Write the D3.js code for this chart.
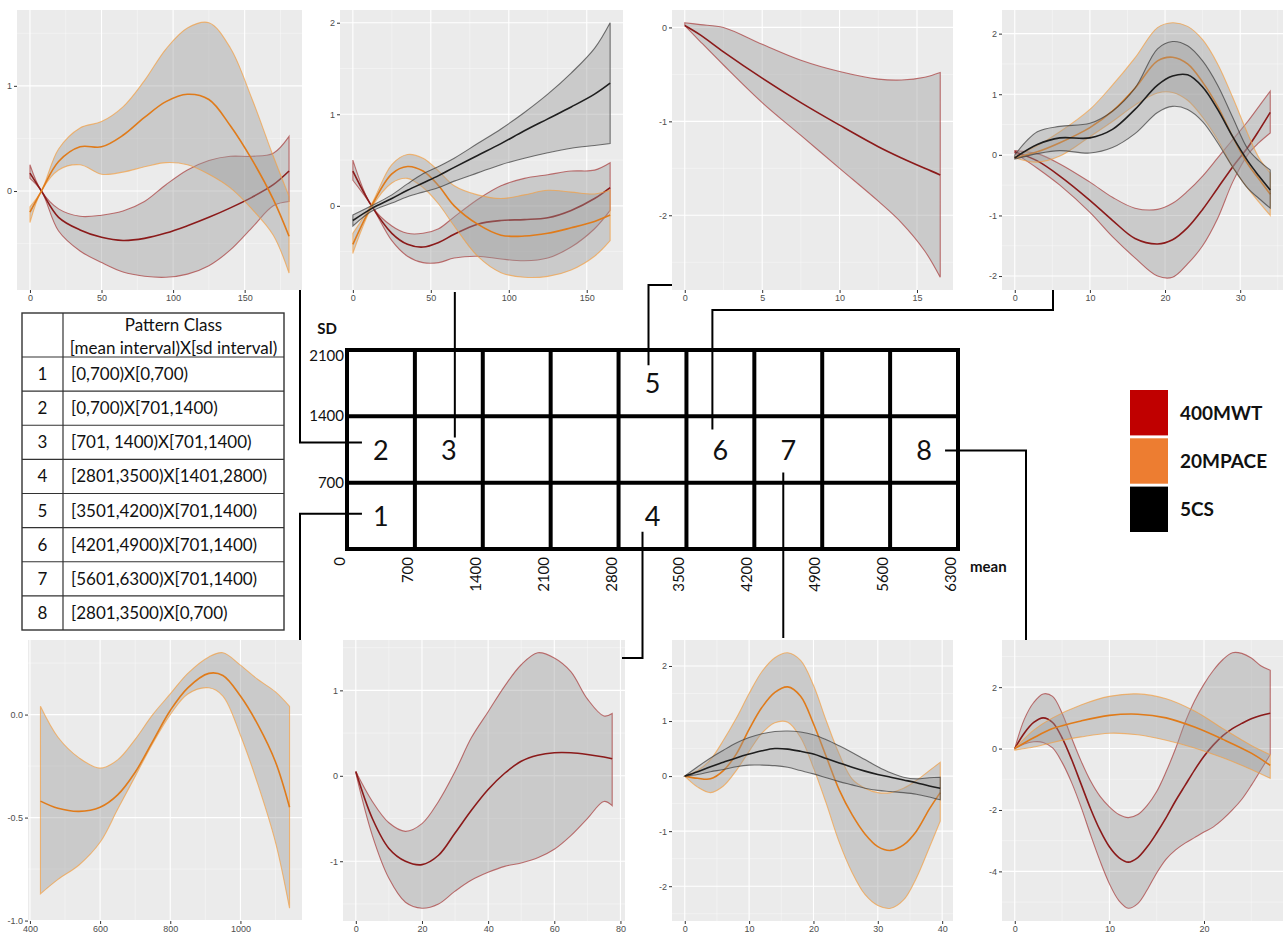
<!DOCTYPE html>
<html>
<head>
<meta charset="utf-8">
<script src="https://cdn.jsdelivr.net/npm/d3@7"></script>
<style>
  body { margin: 0; background: #fff; }
  svg { display: block; }
</style>
</head>
<body>
<svg id="chart" width="1283" height="936"></svg>
<script>
// ---- class 2 (top left) ----
var c2X = [0, 8, 20, 35, 50, 65, 80, 95, 110, 125, 140, 155, 170, 181];
var c2RedMean = [0.17, 0.0, -0.25, -0.37, -0.44, -0.47, -0.45, -0.4, -0.33, -0.25, -0.16, -0.06, 0.06, 0.19];
var c2RedLo = [0.12, 0.0, -0.38, -0.57, -0.68, -0.77, -0.81, -0.82, -0.79, -0.71, -0.56, -0.35, -0.14, -0.1];
var c2RedHi = [0.25, 0.0, -0.17, -0.24, -0.23, -0.19, -0.1, 0.06, 0.2, 0.29, 0.33, 0.33, 0.36, 0.52];
var c2OrangeMean = [-0.2, 0.0, 0.28, 0.42, 0.42, 0.53, 0.7, 0.85, 0.92, 0.87, 0.62, 0.3, -0.08, -0.43];
var c2OrangeLo = [-0.3, 0.0, 0.2, 0.25, 0.16, 0.18, 0.23, 0.27, 0.25, 0.16, 0.03, -0.17, -0.42, -0.78];
var c2OrangeHi = [-0.15, 0.0, 0.4, 0.6, 0.66, 0.8, 1.05, 1.35, 1.55, 1.6, 1.36, 0.88, 0.33, -0.05];
var c2XTicks = [0, 50, 100, 150];
var c2YTicks = [0, 1];

// ---- class 3 ----
var c3X = [0, 12, 25, 35, 45, 55, 65, 80, 95, 110, 125, 140, 155, 165];
var c3RedMean = [0.38, 0.0, -0.3, -0.42, -0.45, -0.4, -0.31, -0.2, -0.16, -0.15, -0.13, -0.05, 0.08, 0.2];
var c3RedLo = [0.28, 0.0, -0.38, -0.55, -0.62, -0.62, -0.57, -0.55, -0.58, -0.6, -0.57, -0.45, -0.25, -0.05];
var c3RedHi = [0.5, 0.0, -0.22, -0.3, -0.3, -0.25, -0.12, 0.07, 0.22, 0.3, 0.34, 0.38, 0.39, 0.47];
var c3OrangeMean = [-0.42, 0.0, 0.35, 0.43, 0.38, 0.22, 0.0, -0.2, -0.32, -0.33, -0.3, -0.24, -0.17, -0.1];
var c3OrangeLo = [-0.52, -0.02, 0.25, 0.3, 0.2, 0.02, -0.22, -0.55, -0.73, -0.78, -0.77, -0.7, -0.55, -0.38];
var c3OrangeHi = [-0.3, 0.02, 0.45, 0.56, 0.52, 0.38, 0.22, 0.12, 0.08, 0.12, 0.17, 0.15, 0.13, 0.17];
var c3BlackMean = [-0.16, -0.03, 0.08, 0.17, 0.25, 0.33, 0.42, 0.55, 0.68, 0.82, 0.95, 1.08, 1.22, 1.34];
var c3BlackLo = [-0.22, -0.06, 0.03, 0.1, 0.15, 0.2, 0.27, 0.36, 0.45, 0.52, 0.58, 0.63, 0.66, 0.68];
var c3BlackHi = [-0.1, 0.0, 0.12, 0.24, 0.35, 0.43, 0.52, 0.68, 0.84, 1.02, 1.22, 1.45, 1.72, 2.0];
var c3XTicks = [0, 50, 100, 150];
var c3YTicks = [0, 1, 2];

// ---- class 5 ----
var c5X = [0, 1, 2.5, 5, 7.5, 10, 12.5, 14, 15.5, 16.5];
var c5RedMean = [0.02, -0.08, -0.26, -0.54, -0.8, -1.04, -1.27, -1.39, -1.5, -1.57];
var c5RedLo = [0.02, -0.15, -0.4, -0.8, -1.15, -1.5, -1.85, -2.08, -2.38, -2.66];
var c5RedHi = [0.05, 0.03, 0.0, -0.18, -0.35, -0.47, -0.55, -0.56, -0.53, -0.48];
var c5XTicks = [0, 5, 10, 15];
var c5YTicks = [-2, -1, 0];

// ---- class 6 ----
var c6X = [0, 3, 6, 10, 13, 16, 19, 21, 23, 25, 27, 29, 31, 32.5, 34];
var c6RedMean = [0.05, -0.1, -0.35, -0.75, -1.08, -1.38, -1.47, -1.4, -1.2, -0.9, -0.55, -0.2, 0.12, 0.4, 0.7];
var c6RedLo = [0.03, -0.22, -0.5, -0.95, -1.35, -1.7, -2.0, -2.02, -1.8, -1.5, -1.05, -0.45, 0.0, 0.2, 0.36];
var c6RedHi = [0.07, 0.02, -0.15, -0.45, -0.7, -0.88, -0.9, -0.8, -0.6, -0.35, -0.05, 0.25, 0.55, 0.8, 1.05];
var c6OrangeMean = [-0.05, 0.05, 0.2, 0.45, 0.72, 1.1, 1.55, 1.61, 1.5, 1.2, 0.8, 0.3, -0.15, -0.4, -0.65];
var c6OrangeLo = [-0.05, -0.12, -0.02, 0.3, 0.55, 0.82, 1.02, 1.03, 0.9, 0.62, 0.25, -0.2, -0.55, -0.78, -1.0];
var c6OrangeHi = [-0.03, 0.15, 0.38, 0.75, 1.15, 1.6, 2.1, 2.18, 2.12, 1.9, 1.5, 0.95, 0.35, -0.05, -0.3];
var c6BlackMean = [-0.05, 0.17, 0.28, 0.28, 0.42, 0.75, 1.15, 1.3, 1.32, 1.12, 0.75, 0.3, -0.1, -0.35, -0.58];
var c6BlackLo = [-0.07, 0.02, 0.07, 0.03, 0.12, 0.35, 0.7, 0.8, 0.75, 0.55, 0.2, -0.2, -0.55, -0.72, -0.88];
var c6BlackHi = [0.0, 0.38, 0.47, 0.52, 0.72, 1.1, 1.75, 1.87, 1.8, 1.55, 1.15, 0.62, 0.1, -0.1, -0.25];
var c6XTicks = [0, 10, 20, 30];
var c6YTicks = [-2, -1, 0, 1, 2];

// ---- class 1 (bottom left) ----
var c1X = [430, 480, 540, 600, 650, 700, 750, 800, 850, 910, 950, 1000, 1050, 1100, 1140];
var c1OrangeMean = [-0.42, -0.455, -0.47, -0.45, -0.39, -0.28, -0.13, 0.02, 0.13, 0.2, 0.19, 0.09, -0.05, -0.23, -0.45];
var c1OrangeLo = [-0.87, -0.8, -0.73, -0.62, -0.46, -0.3, -0.14, 0.0, 0.1, 0.13, 0.09, -0.1, -0.34, -0.62, -0.94];
var c1OrangeHi = [0.04, -0.11, -0.21, -0.26, -0.22, -0.12, 0.0, 0.1, 0.2, 0.28, 0.3, 0.24, 0.17, 0.11, 0.04];
var c1XTicks = [400, 600, 800, 1000];
var c1YTicks = [-1.0, -0.5, 0.0];

// ---- class 4 ----
var c4X = [0, 5, 10, 15, 20, 25, 30, 35, 40, 45, 50, 55, 60, 65, 70, 75, 77.5];
var c4RedMean = [0.05, -0.5, -0.85, -1.0, -1.04, -0.93, -0.67, -0.4, -0.16, 0.03, 0.17, 0.24, 0.27, 0.27, 0.25, 0.22, 0.2];
var c4RedLo = [0.03, -0.7, -1.2, -1.48, -1.55, -1.5, -1.35, -1.22, -1.13, -1.06, -1.02, -0.96, -0.86, -0.7, -0.5, -0.3, -0.35];
var c4RedHi = [0.05, -0.3, -0.55, -0.65, -0.56, -0.3, 0.05, 0.45, 0.75, 1.05, 1.3, 1.44, 1.38, 1.22, 0.9, 0.7, 0.73];
var c4XTicks = [0, 20, 40, 60, 80];
var c4YTicks = [-1, 0, 1];

// ---- class 7 ----
var c7X = [0, 2, 4, 6, 8, 10, 12, 14, 16, 18, 20, 22, 24, 26, 28, 30, 32, 34, 36, 38, 39.7];
var c7OrangeMean = [0, -0.04, -0.05, 0.1, 0.4, 0.85, 1.25, 1.52, 1.62, 1.45, 0.95, 0.35, -0.25, -0.7, -1.05, -1.28, -1.35, -1.25, -1.0, -0.6, -0.3];
var c7OrangeLo = [0, -0.2, -0.3, -0.18, 0.1, 0.45, 0.78, 0.97, 0.98, 0.7, 0.15, -0.5, -1.2, -1.75, -2.15, -2.35, -2.4, -2.25, -1.85, -1.3, -0.82];
var c7OrangeHi = [0, 0.1, 0.3, 0.65, 1.05, 1.5, 1.9, 2.15, 2.24, 2.1, 1.65, 1.0, 0.4, -0.05, -0.22, -0.3, -0.3, -0.22, -0.08, 0.1, 0.25];
var c7BlackMean = [0, 0.08, 0.17, 0.25, 0.33, 0.4, 0.46, 0.5, 0.49, 0.45, 0.4, 0.32, 0.24, 0.16, 0.09, 0.03, -0.02, -0.07, -0.12, -0.18, -0.22];
var c7BlackLo = [0, 0.03, 0.08, 0.12, 0.17, 0.2, 0.2, 0.19, 0.16, 0.1, 0.04, -0.03, -0.1, -0.16, -0.22, -0.26, -0.28, -0.3, -0.33, -0.38, -0.43];
var c7BlackHi = [0, 0.17, 0.33, 0.47, 0.6, 0.7, 0.77, 0.81, 0.82, 0.8, 0.75, 0.66, 0.55, 0.43, 0.3, 0.17, 0.06, -0.02, -0.05, -0.03, -0.02];
var c7XTicks = [0, 10, 20, 30, 40];
var c7YTicks = [-2, -1, 0, 1, 2];

// ---- class 8 ----
var c8RedX = [0, 1, 2, 3, 4, 5, 6, 7, 8, 9, 10, 11, 12, 13, 14, 15, 16, 17, 18, 19, 20, 21, 22, 23, 24, 25, 26, 27];
var c8RedMean = [0, 0.5, 0.85, 1.0, 0.85, 0.35, -0.35, -1.15, -1.95, -2.65, -3.2, -3.55, -3.7, -3.55, -3.2, -2.75, -2.25, -1.7, -1.2, -0.7, -0.25, 0.12, 0.42, 0.65, 0.82, 0.97, 1.08, 1.15];
var c8RedLo = [0, 0.15, 0.22, 0.2, 0.02, -0.45, -1.1, -1.9, -2.8, -3.65, -4.4, -4.95, -5.2, -5.05, -4.6, -4.05, -3.6, -3.3, -3.08, -2.9, -2.72, -2.55, -2.3, -2.0, -1.65, -1.2, -0.7, -0.2];
var c8RedHi = [0, 0.95, 1.5, 1.78, 1.7, 1.15, 0.35, -0.4, -1.05, -1.55, -1.9, -2.15, -2.25, -2.15, -1.85, -1.4, -0.75, 0.0, 0.85, 1.55, 2.1, 2.55, 2.9, 3.12, 3.1, 2.95, 2.7, 2.55];
var c8OrangeX = [0, 2, 4, 7, 10, 13, 16, 19, 22, 25, 27];
var c8OrangeMean = [0, 0.35, 0.65, 0.9, 1.08, 1.12, 1.0, 0.7, 0.3, -0.15, -0.55];
var c8OrangeLo = [-0.05, 0.05, 0.2, 0.38, 0.5, 0.45, 0.27, 0.02, -0.3, -0.68, -0.97];
var c8OrangeHi = [0, 0.6, 1.0, 1.42, 1.7, 1.78, 1.62, 1.22, 0.65, 0.1, -0.2];
var c8XTicks = [0, 10, 20];
var c8YTicks = [-4, -2, 0, 2];

// ---- pattern class table ----
var classIds = ['1', '2', '3', '4', '5', '6', '7', '8'];
var classIntervals = ['[0,700)X[0,700)', '[0,700)X[701,1400)', '[701, 1400)X[701,1400)',
  '[2801,3500)X[1401,2800)', '[3501,4200)X[701,1400)', '[4201,4900)X[701,1400)',
  '[5601,6300)X[701,1400)', '[2801,3500)X[0,700)'];

// ---- mean x sd grid ----
var meanTicks = [0, 700, 1400, 2100, 2800, 3500, 4200, 4900, 5600, 6300];
var sdTicks = [0, 700, 1400, 2100];
var cellLabels = ['1', '2', '3', '4', '5', '6', '7', '8'];
var cellMean = [350, 350, 1050, 3150, 3150, 3850, 4550, 5950];
var cellSd = [350, 1050, 1050, 350, 1750, 1050, 1050, 1050];

// ---- legend ----
var legendNames = ['400MWT', '20MPACE', '5CS'];
var legendColors = ['#C00000', '#ED7D31', '#000000'];

var palette = {
  red: { line: '#8b1a1a', edge: '#a83a3a' },
  orange: { line: '#e07b1a', edge: '#f3a043' },
  black: { line: '#1e1e1e', edge: '#3a3a3a' }
};

var svg = d3.select('#chart');
svg.append('rect').attr('width', 1283).attr('height', 936).attr('fill', '#fff');

var panels = [
  { box: [17, 10, 302, 290], xt: c2XTicks, yt: c2YTicks, series: [
    { kind: 'red', x: c2X, m: c2RedMean, lo: c2RedLo, hi: c2RedHi },
    { kind: 'orange', x: c2X, m: c2OrangeMean, lo: c2OrangeLo, hi: c2OrangeHi }] },
  { box: [340, 10, 623, 290], xt: c3XTicks, yt: c3YTicks, series: [
    { kind: 'red', x: c3X, m: c3RedMean, lo: c3RedLo, hi: c3RedHi },
    { kind: 'orange', x: c3X, m: c3OrangeMean, lo: c3OrangeLo, hi: c3OrangeHi },
    { kind: 'black', x: c3X, m: c3BlackMean, lo: c3BlackLo, hi: c3BlackHi }] },
  { box: [672, 10, 953, 290], xt: c5XTicks, yt: c5YTicks, series: [
    { kind: 'red', x: c5X, m: c5RedMean, lo: c5RedLo, hi: c5RedHi }] },
  { box: [1002, 10, 1283, 290], xt: c6XTicks, yt: c6YTicks, series: [
    { kind: 'red', x: c6X, m: c6RedMean, lo: c6RedLo, hi: c6RedHi },
    { kind: 'orange', x: c6X, m: c6OrangeMean, lo: c6OrangeLo, hi: c6OrangeHi },
    { kind: 'black', x: c6X, m: c6BlackMean, lo: c6BlackLo, hi: c6BlackHi }] },
  { box: [28, 640, 302, 921], xt: c1XTicks, yt: c1YTicks, fmt: function(d) { return d.toFixed(1); }, series: [
    { kind: 'orange', x: c1X, m: c1OrangeMean, lo: c1OrangeLo, hi: c1OrangeHi }] },
  { box: [343, 640, 625, 921], xt: c4XTicks, yt: c4YTicks, series: [
    { kind: 'red', x: c4X, m: c4RedMean, lo: c4RedLo, hi: c4RedHi }] },
  { box: [672, 640, 953, 921], xt: c7XTicks, yt: c7YTicks, series: [
    { kind: 'orange', x: c7X, m: c7OrangeMean, lo: c7OrangeLo, hi: c7OrangeHi },
    { kind: 'black', x: c7X, m: c7BlackMean, lo: c7BlackLo, hi: c7BlackHi }] },
  { box: [1002, 640, 1283, 921], xt: c8XTicks, yt: c8YTicks, series: [
    { kind: 'red', x: c8RedX, m: c8RedMean, lo: c8RedLo, hi: c8RedHi },
    { kind: 'orange', x: c8OrangeX, m: c8OrangeMean, lo: c8OrangeLo, hi: c8OrangeHi }] }
];

// minor breaks half way between majors, like ggplot
function minorBreaks(ticks, dom) {
  var s = ticks[1] - ticks[0], out = [];
  for (var i = -1; i < ticks.length; i++) {
    var v = (i < 0 ? ticks[0] - s : ticks[i]) + s / 2;
    if (v > dom[0] && v < dom[1]) out.push(v);
  }
  return out;
}

function drawPanel(p) {
  var x0 = p.box[0], y0 = p.box[1], x1 = p.box[2], y1 = p.box[3];
  var allX = [], allY = [];
  p.series.forEach(function(s) {
    allX = allX.concat(s.x);
    allY = allY.concat(s.lo, s.hi, s.m);
  });
  var xe = d3.extent(allX), ye = d3.extent(allY);
  var xp = (xe[1] - xe[0]) * 0.05, yp = (ye[1] - ye[0]) * 0.05;
  var x = d3.scaleLinear().domain([xe[0] - xp, xe[1] + xp]).range([x0, x1]);
  var y = d3.scaleLinear().domain([ye[0] - yp, ye[1] + yp]).range([y1, y0]);
  var xt = p.xt.slice().sort(d3.ascending), yt = p.yt.slice().sort(d3.ascending);

  var g = svg.append('g');
  g.append('rect').attr('x', x0).attr('y', y0).attr('width', x1 - x0).attr('height', y1 - y0).attr('fill', '#ebebeb');

  g.selectAll('.vmin').data(minorBreaks(xt, x.domain())).enter().append('line')
    .attr('x1', function(d) { return x(d); }).attr('x2', function(d) { return x(d); })
    .attr('y1', y0).attr('y2', y1).attr('stroke', '#fff').attr('stroke-opacity', 0.6).attr('stroke-width', 0.6);
  g.selectAll('.hmin').data(minorBreaks(yt, y.domain())).enter().append('line')
    .attr('y1', function(d) { return y(d); }).attr('y2', function(d) { return y(d); })
    .attr('x1', x0).attr('x2', x1).attr('stroke', '#fff').attr('stroke-opacity', 0.6).attr('stroke-width', 0.6);
  g.selectAll('.vmaj').data(xt).enter().append('line')
    .attr('x1', function(d) { return x(d); }).attr('x2', function(d) { return x(d); })
    .attr('y1', y0).attr('y2', y1).attr('stroke', '#fff').attr('stroke-width', 1.1);
  g.selectAll('.hmaj').data(yt).enter().append('line')
    .attr('y1', function(d) { return y(d); }).attr('y2', function(d) { return y(d); })
    .attr('x1', x0).attr('x2', x1).attr('stroke', '#fff').attr('stroke-width', 1.1);

  var curve = d3.curveCatmullRom.alpha(0.5);
  p.series.forEach(function(s) {
    var pts = s.x.map(function(v, i) { return { x: v, m: s.m[i], lo: s.lo[i], hi: s.hi[i] }; });
    var c = palette[s.kind];
    g.append('path').datum(pts)
      .attr('d', d3.area().x(function(d) { return x(d.x); })
        .y0(function(d) { return y(d.lo); }).y1(function(d) { return y(d.hi); }).curve(curve))
      .attr('fill', '#999').attr('fill-opacity', 0.4)
      .attr('stroke', c.edge).attr('stroke-opacity', 0.7).attr('stroke-width', 1.1);
    g.append('path').datum(pts)
      .attr('d', d3.line().x(function(d) { return x(d.x); }).y(function(d) { return y(d.m); }).curve(curve))
      .attr('fill', 'none').attr('stroke', c.line).attr('stroke-width', 1.6);
  });

  var fmt = p.fmt || function(d) { return String(d); };
  var ax = g.append('g').attr('transform', 'translate(0,' + y1 + ')')
    .call(d3.axisBottom(x).tickValues(xt).tickSize(3).tickPadding(1.5).tickFormat(function(d) { return String(d); }));
  var ay = g.append('g').attr('transform', 'translate(' + x0 + ',0)')
    .call(d3.axisLeft(y).tickValues(yt).tickSize(3).tickPadding(2).tickFormat(fmt));
  [ax, ay].forEach(function(a) {
    a.select('.domain').remove();
    a.attr('font-family', '"Liberation Sans", Arial, sans-serif').attr('font-size', 9);
    a.selectAll('line').attr('stroke', '#333');
    a.selectAll('text').attr('fill', '#4d4d4d');
  });
}

panels.forEach(drawPanel);

// ---- table ----
var calibri = 'Lato, "Open Sans", sans-serif';
var tx0 = 22, tx1 = 284, tcol = 63, ty0 = 313, thead = 357, ty1 = 630;
var rowBand = d3.scaleBand().domain(classIds).range([thead, ty1]);
var tbl = svg.append('g').attr('font-family', calibri).attr('fill', '#111');
tbl.append('rect').attr('x', tx0).attr('y', ty0).attr('width', tx1 - tx0).attr('height', ty1 - ty0)
  .attr('fill', '#fff').attr('stroke', '#333').attr('stroke-width', 1.4);
tbl.append('line').attr('x1', tcol).attr('x2', tcol).attr('y1', ty0).attr('y2', ty1).attr('stroke', '#333').attr('stroke-width', 1.2);
tbl.selectAll('.rl').data(classIds).enter().append('line')
  .attr('x1', tx0).attr('x2', tx1)
  .attr('y1', function(d) { return rowBand(d); }).attr('y2', function(d) { return rowBand(d); })
  .attr('stroke', '#333').attr('stroke-width', 1.2);
tbl.append('text').attr('x', (tcol + tx1) / 2).attr('y', 331).attr('text-anchor', 'middle')
  .attr('font-size', 17).text('Pattern Class');
tbl.append('text').attr('x', (tcol + tx1) / 2).attr('y', 354).attr('text-anchor', 'middle')
  .attr('font-size', 17).text('[mean interval)X[sd interval)');
tbl.selectAll('.num').data(classIds).enter().append('text')
  .attr('x', (tx0 + tcol) / 2).attr('y', function(d) { return rowBand(d) + rowBand.bandwidth() / 2 + 6; })
  .attr('text-anchor', 'middle').attr('font-size', 17).text(function(d) { return d; });
tbl.selectAll('.iv').data(classIntervals).enter().append('text')
  .attr('x', tcol + 8).attr('y', function(d, i) { return rowBand(classIds[i]) + rowBand.bandwidth() / 2 + 6; })
  .attr('font-size', 17).text(function(d) { return d; });

// ---- mean x sd grid ----
var meanS = d3.scaleLinear().domain([0, 6300]).range([347, 958]);
var sdS = d3.scaleLinear().domain([0, 2100]).range([549, 350]);
var grid = svg.append('g').attr('font-family', calibri).attr('fill', '#111');
grid.selectAll('.gv').data(meanTicks).enter().append('line')
  .attr('x1', function(d) { return meanS(d); }).attr('x2', function(d) { return meanS(d); })
  .attr('y1', sdS(0) + 2).attr('y2', sdS(2100) - 2).attr('stroke', '#000').attr('stroke-width', 4);
grid.selectAll('.gh').data(sdTicks).enter().append('line')
  .attr('y1', function(d) { return sdS(d); }).attr('y2', function(d) { return sdS(d); })
  .attr('x1', meanS(0) - 2).attr('x2', meanS(6300) + 2).attr('stroke', '#000').attr('stroke-width', 4);
grid.selectAll('.sdl').data(sdTicks.slice(1)).enter().append('text')
  .attr('x', meanS(0) - 3).attr('y', function(d) { return Math.max(sdS(d), 356) + 5; })
  .attr('text-anchor', 'end').attr('font-size', 15).text(function(d) { return d; });
grid.selectAll('.ml').data(meanTicks).enter().append('text')
  .attr('transform', function(d) { return 'translate(' + (meanS(d) - 2) + ',557) rotate(-90)'; })
  .attr('text-anchor', 'end').attr('font-size', 15).text(function(d) { return d; });
grid.append('text').attr('x', 327).attr('y', 334).attr('text-anchor', 'middle')
  .attr('font-size', 15).attr('font-weight', 'bold').text('SD');
grid.append('text').attr('x', 970).attr('y', 572)
  .attr('font-size', 15).attr('font-weight', 'bold').text('mean');
grid.selectAll('.cell').data(cellLabels).enter().append('text')
  .attr('x', function(d, i) { return meanS(cellMean[i]); })
  .attr('y', function(d, i) { return sdS(cellSd[i]) + 10; })
  .attr('text-anchor', 'middle').attr('font-size', 27).text(function(d) { return d; });

// ---- connectors from cells to their panels ----
function cell(i) { return [meanS(cellMean[i]), sdS(cellSd[i])]; }
var c1 = cell(0), c2 = cell(1), c3 = cell(2), c4 = cell(3), c5 = cell(4), c6 = cell(5), c7 = cell(6), c8 = cell(7);
var links = [
  [[c1[0] - 19, c1[1] - 2], [300, c1[1] - 2], [300, 640]],
  [[300, 290], [300, c2[1] - 7], [c2[0] - 19, c2[1] - 7]],
  [[c3[0] + 6, 292], [c3[0] + 6, c3[1] - 12]],
  [[c4[0] - 10, c4[1] + 16], [c4[0] - 10, 658], [622, 658]],
  [[672, 285], [c5[0] - 4, 285], [c5[0] - 4, c5[1] - 18]],
  [[1053, 290], [1053, 310], [c6[0] - 8, 310], [c6[0] - 8, c6[1] - 20]],
  [[c7[0] - 5, c7[1] + 23], [c7[0] - 5, 638]],
  [[c8[0] + 21, c8[1] + 1], [1026, c8[1] + 1], [1026, 640]]
];
svg.append('g').selectAll('path').data(links).enter().append('path')
  .attr('d', d3.line()).attr('fill', 'none').attr('stroke', '#000').attr('stroke-width', 2);

// ---- legend ----
var legY = d3.scaleBand().domain(legendNames).range([390, 532]).paddingInner(0.06);
var leg = svg.append('g').attr('font-family', calibri);
leg.selectAll('rect').data(legendNames).enter().append('rect')
  .attr('x', 1130).attr('y', function(d) { return legY(d); })
  .attr('width', 38).attr('height', legY.bandwidth())
  .attr('fill', function(d, i) { return legendColors[i]; });
leg.selectAll('text').data(legendNames).enter().append('text')
  .attr('x', 1180).attr('y', function(d) { return legY(d) + legY.bandwidth() / 2 + 7; })
  .attr('font-size', 19).attr('font-weight', 'bold').attr('fill', '#111')
  .text(function(d) { return d; });
</script>
</body>
</html>
